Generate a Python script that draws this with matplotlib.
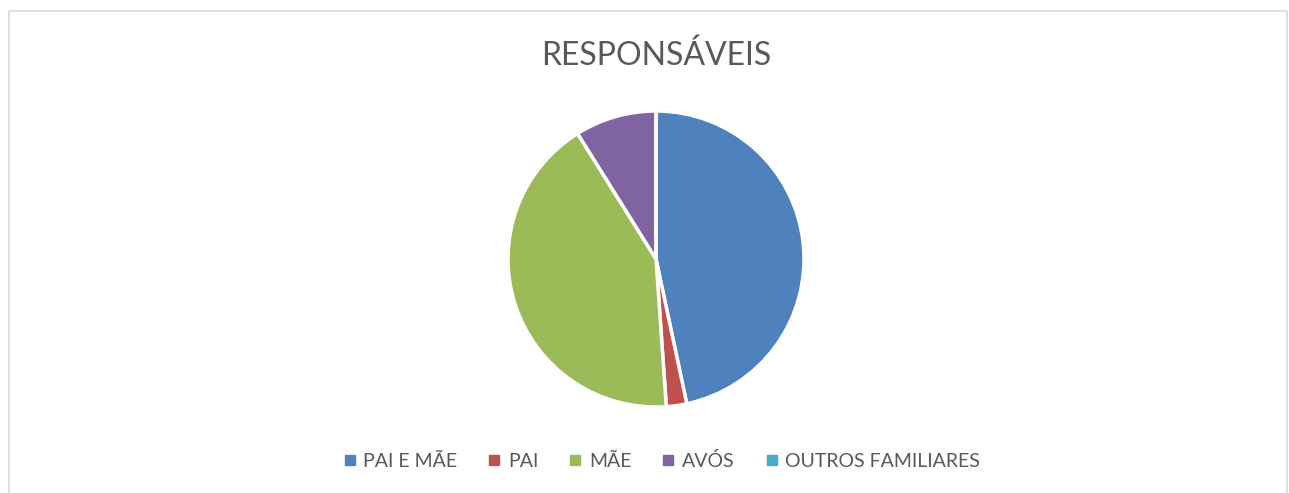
import matplotlib.pyplot as plt
from matplotlib.lines import Line2D
from matplotlib.patches import Rectangle

# Data
categories = ['PAI E MÃE', 'PAI', 'MÃE', 'AVÓS', 'OUTROS FAMILIARES']
values = [21, 1, 19, 4, 0]
colors = ['#4F81BD', '#C0504D', '#9BBB59', '#8064A2', '#4BACC6']

plt.rcParams['font.family'] = ['Lato', 'DejaVu Sans']

W, H = 1289, 493
fig = plt.figure(figsize=(W / 100, H / 100), dpi=100)

# light chart border
fig.patches.append(Rectangle((9 / W, -0.1), (1287 - 9) / W, 1.1 - 11 / H,
                             transform=fig.transFigure, fill=False,
                             edgecolor='#D9D9D9', linewidth=1.2))

# Pie axes placed in pixels
cx, cy, r = 656, 259, 148
ax = fig.add_axes([(cx - r) / W, 1 - (cy + r) / H, 2 * r / W, 2 * r / H])
ax.pie(values, colors=colors, startangle=90, counterclock=False,
       wedgeprops=dict(edgecolor='white', linewidth=2.5))
ax.set_xlim(-1, 1)
ax.set_ylim(-1, 1)
ax.set_aspect('equal')
ax.axis('off')

fig.text(656 / W, 1 - 56 / H, 'RESPONSÁVEIS', ha='center', va='center',
         fontsize=23, color='#595959')

handles = [Line2D([], [], marker='s', linestyle='none', markersize=7,
                  markerfacecolor=c, markeredgecolor=c) for c in colors]
fig.legend(handles, categories, loc='center', ncol=5, frameon=False,
           bbox_to_anchor=(660 / W, 1 - 461 / H), fontsize=14,
           labelcolor='#595959', handletextpad=0.2, columnspacing=1.4,
           handlelength=1.0)

fig.savefig('out.png', dpi=100, facecolor='white')
